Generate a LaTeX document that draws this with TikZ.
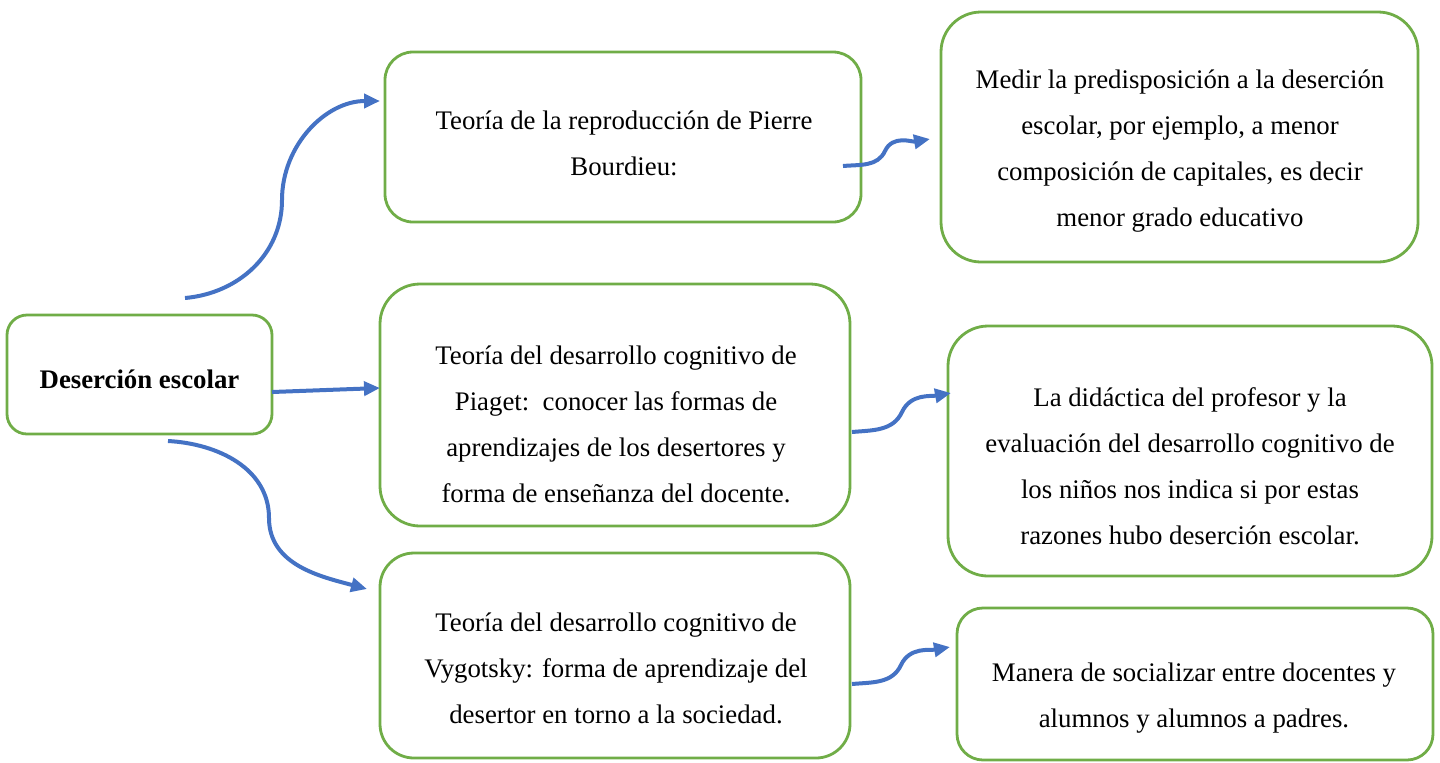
\documentclass[tikz,border=0pt]{standalone}
\usepackage{fontspec}
\setmainfont{Liberation Serif}
\usetikzlibrary{arrows.meta}
\definecolor{cajaverde}{RGB}{112,173,71}
\definecolor{flechaazul}{RGB}{68,114,196}

\begin{document}
\begin{tikzpicture}[x=0.5pt,y=-0.5pt,
    caja/.style={draw=cajaverde,line width=1.4pt,fill=white,inner sep=0pt},
    texto/.style={align=center,inner sep=0pt,font=\fontsize{13.4}{23}\selectfont},
    flecha/.style={flechaazul,line width=2pt,-{Triangle[length=8pt,width=7pt]}}]
\useasboundingbox (0,0) rectangle (1440,762);

%cajas
\node[caja,minimum width=132.5pt,minimum height=59.5pt,rounded corners=10pt] (desercion) at (139.5,374.5) {};
\node[caja,minimum width=238pt,minimum height=85pt,rounded corners=14pt] (bourdieu) at (623,137) {};
\node[caja,minimum width=235pt,minimum height=121pt,rounded corners=20pt] (piaget) at (615,405) {};
\node[caja,minimum width=235pt,minimum height=102.5pt,rounded corners=17pt] (vygotsky) at (615,655.5) {};
\node[caja,minimum width=238.5pt,minimum height=125pt,rounded corners=20pt] (medir) at (1179.5,137) {};
\node[caja,minimum width=242pt,minimum height=125pt,rounded corners=20pt] (didactica) at (1190,451) {};
\node[caja,minimum width=238pt,minimum height=76pt,rounded corners=13pt] (manera) at (1195,684) {};

%textos
\node[texto,font=\fontsize{13.4}{23}\selectfont\bfseries] (desercion texto) at (139.5,379) {Deserción escolar};
\node[texto] (bourdieu texto) at (624,143.5) {Teoría de la reproducción de Pierre\\Bourdieu:};
\node[texto] (piaget texto) at (616,424.5) {Teoría del desarrollo cognitivo de\\Piaget:\ \ conocer las formas de\\aprendizajes de los desertores y\\forma de enseñanza del docente.};
\node[texto] (vygotsky texto) at (616,668) {Teoría del desarrollo cognitivo de\\Vygotsky: forma de aprendizaje del\\desertor en torno a la sociedad.};
\node[texto] (medir texto) at (1180,151.5) {Medir la predisposición a la deserción\\escolar, por ejemplo, a menor\\composición de capitales, es decir\\menor grado educativo};
\node[texto] (didactica texto) at (1190,466) {La didáctica del profesor y la\\evaluación del desarrollo cognitivo de\\los niños nos indica si por estas\\razones hubo deserción escolar.};
\node[texto] (manera texto) at (1194,698) {Manera de socializar entre docentes y\\alumnos y alumnos a padres.};

%puntos de las flechas
\coordinate (d1) at (185,298);
\coordinate (d1m) at (282,200);
\coordinate (d1f) at (380,101);
\coordinate (d2) at (272,392);
\coordinate (d2f) at (380,388);
\coordinate (d3) at (168,441);
\coordinate (d3m) at (269,518);
\coordinate (d3f) at (367,589);
\coordinate (b1) at (843,166);
\coordinate (b1m) at (885,151);
\coordinate (b1f) at (930,139);
\coordinate (p1) at (852,432);
\coordinate (p1m) at (902,412);
\coordinate (p1f) at (951,393);
\coordinate (v1) at (852,684);
\coordinate (v1m) at (901,665);
\coordinate (v1f) at (950,647);

%flechas
\draw[flecha] (d1) to[out=5,in=-90] (d1m) to[out=90,in=180] (d1f);
\draw[flecha] (d2) -- (d2f);
\draw[flecha] (d3) to[out=-3,in=90] (d3m) to[out=-90,in=165] (d3f);
\draw[flecha] (b1) to[out=5,in=-115] (b1m) to[out=65,in=190] (b1f);
\draw[flecha] (p1) to[out=5,in=-115] (p1m) to[out=65,in=190] (p1f);
\draw[flecha] (v1) to[out=5,in=-115] (v1m) to[out=65,in=190] (v1f);
\end{tikzpicture}
\end{document}
